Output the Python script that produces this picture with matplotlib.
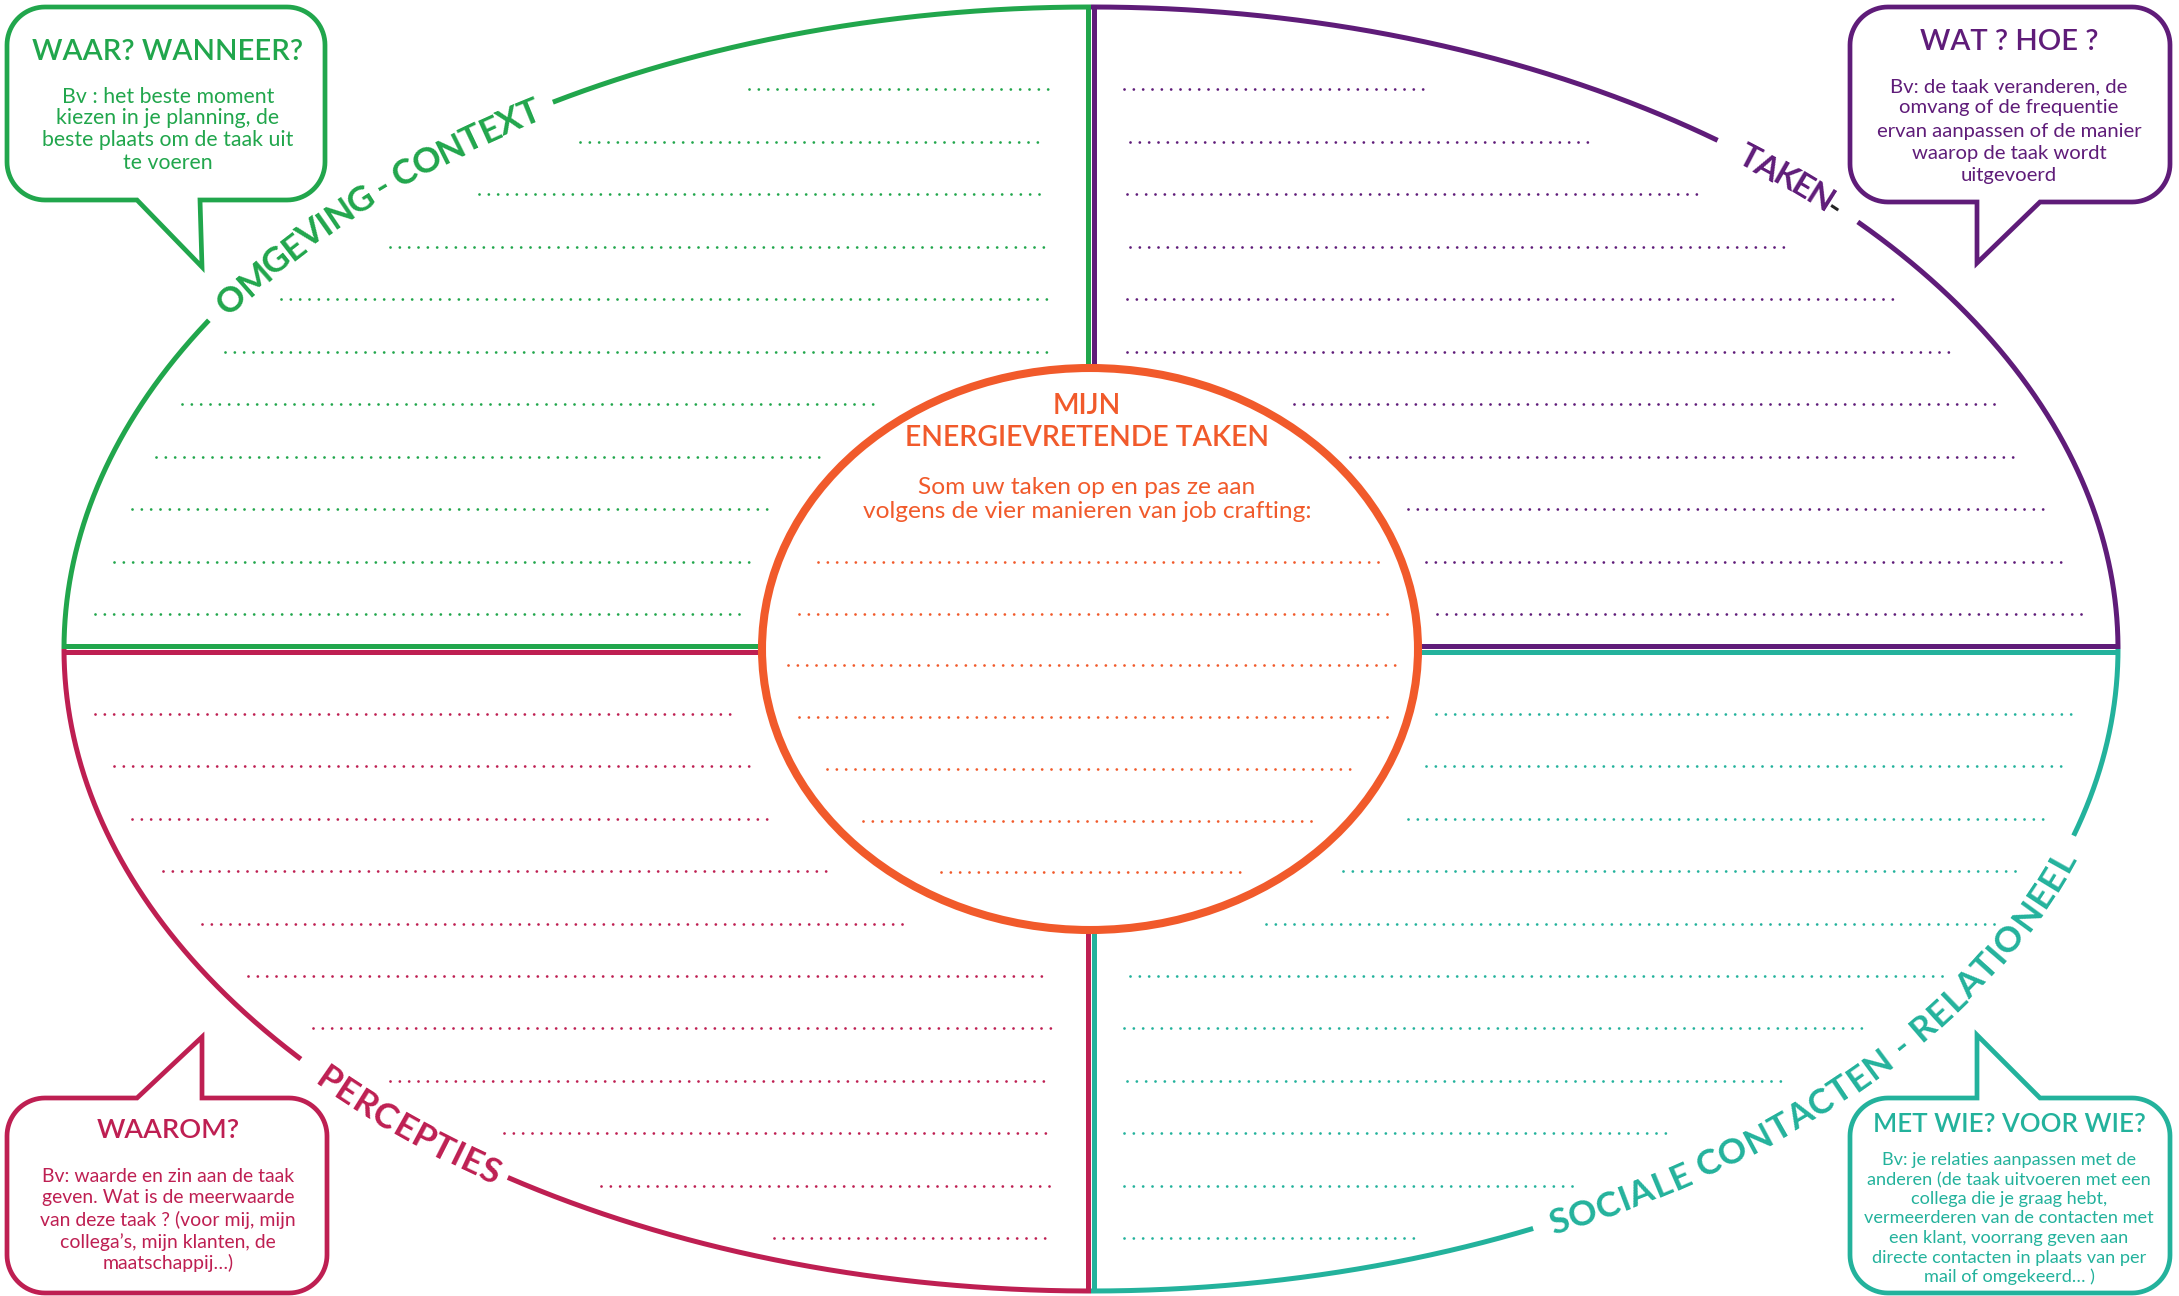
import numpy as np
import matplotlib
matplotlib.use("Agg")
import matplotlib.pyplot as plt
from matplotlib.font_manager import FontProperties
from matplotlib.patches import Ellipse, Polygon

W, H = 2179, 1296
FAMILY = ["Lato", "DejaVu Sans"]
plt.rcParams["font.family"] = FAMILY

GREEN, PURPLE, CRIMSON, TEAL, ORANGE = "#21A64C", "#5F1C79", "#BE1F52", "#23B29C", "#F15A2B"
DARK = "#222222"

# ---------------- content ----------------
quadrant_labels = ["OMGEVING - CONTEXT", "TAKEN-", "PERCEPTIES", "SOCIALE CONTACTEN - RELATIONEEL"]
bubble_titles = ["WAAR? WANNEER?", "WAT ? HOE ?", "WAAROM?", "MET WIE? VOOR WIE?"]
bubble_green = ["Bv : het beste moment", "kiezen in je planning, de",
                "beste plaats om de taak uit", "te voeren"]
bubble_purple = ["Bv: de taak veranderen, de", "omvang of de frequentie",
                 "ervan aanpassen of de manier", "waarop de taak wordt", "uitgevoerd"]
bubble_crimson = ["Bv: waarde en zin aan de taak", "geven. Wat is de meerwaarde",
                  "van deze taak ? (voor mij, mijn", "collega’s, mijn klanten, de",
                  "maatschappij…)"]
bubble_teal = ["Bv: je relaties aanpassen met de", "anderen (de taak uitvoeren met een",
               "collega die je graag hebt,", "vermeerderen van de contacten met",
               "een klant, voorrang geven aan", "directe contacten in plaats van per",
               "mail of omgekeerd… )"]
center_title = ["MIJN", "ENERGIEVRETENDE TAKEN"]
center_body = ["Som uw taken op en pas ze aan", "volgens de vier manieren van job crafting:"]

# ---------------- layout ----------------
CX, CY, A, B = 1091, 649, 1027, 642          # outer ellipse
OCX, OCY, OA, OB = 1090, 649, 328, 281       # centre ellipse

top_rows_y = [89 + 52.5 * i for i in range(11)]
bot_rows_y = [714 + 52.4 * i for i in range(11)]
mid_rows_y = [562 + 51.7 * i for i in range(7)]
green_rows = [(749, 1051), (580, 1046), (479, 1046), (390, 1046), (281, 1051), (225, 1051),
              (182, 874), (156, 824), (132, 767), (114, 751), (95, 739)]
purple_rows = [(1124, 1429), (1130, 1596), (1127, 1698), (1130, 1788), (1127, 1897), (1127, 1951),
               (1294, 1995), (1350, 2020), (1408, 2045), (1426, 2064), (1437, 2083)]
crimson_rows = [(95, 738), (114, 749), (132, 767), (163, 831), (202, 907), (248, 1044),
                (313, 1051), (390, 1046), (504, 1046), (601, 1051), (774, 1051)]
teal_rows = [(1436, 2080), (1426, 2064), (1408, 2045), (1343, 2020), (1266, 1995), (1130, 1951),
             (1124, 1862), (1127, 1784), (1124, 1667), (1124, 1572), (1124, 1419)]
orange_rows = [(818, 1380), (799, 1389), (788, 1400), (799, 1389), (827, 1355), (863, 1314),
               (941, 1244)]

fig = plt.figure(figsize=(W / 100, H / 100), dpi=100)
ax = fig.add_axes([0, 0, 1, 1])
ax.set_xlim(0, W)
ax.set_ylim(H, 0)
ax.axis("off")
renderer = fig.canvas.get_renderer()


def fprop(size, weight):
    return FontProperties(family=FAMILY, size=size, weight=weight)


def text_wh(s, size, weight):
    w, h, d = renderer.get_text_width_height_descent(s, fprop(size, weight), ismath=False)
    return w, h


def fit_size(s, target, weight):
    w, _ = text_wh(s, 20, weight)
    return 20 * target / w


def ell(t0, t1, n=500):
    t = np.radians(np.linspace(t0, t1, n))
    return CX + A * np.cos(t), CY - B * np.sin(t)


LW = 3.6
# outer arcs
for color, spans in [(GREEN, [(180, 149.2), (121.6, 90)]),
                     (PURPLE, [(90, 52.4), (41.7, 0)]),
                     (CRIMSON, [(180, 219.7), (235.4, 270)]),
                     (TEAL, [(270, 295.5), (343.1, 360)])]:
    for t0, t1 in spans:
        x, y = ell(t0, t1)
        ax.plot(x, y, color=color, lw=LW, solid_capstyle="butt", zorder=2)

# dividers
ax.plot([1088, 1088], [7, 369], color=GREEN, lw=LW, solid_capstyle="butt", zorder=2)
ax.plot([1094, 1094], [7, 369], color=PURPLE, lw=LW, solid_capstyle="butt", zorder=2)
ax.plot([1088, 1088], [930, 1291], color=CRIMSON, lw=LW, solid_capstyle="butt", zorder=2)
ax.plot([1094, 1094], [930, 1291], color=TEAL, lw=LW, solid_capstyle="butt", zorder=2)
ax.plot([64, 762], [646, 646], color=GREEN, lw=LW, solid_capstyle="butt", zorder=2)
ax.plot([64, 762], [652, 652], color=CRIMSON, lw=LW, solid_capstyle="butt", zorder=2)
ax.plot([1419, 2118], [646, 646], color=PURPLE, lw=LW, solid_capstyle="butt", zorder=2)
ax.plot([1419, 2118], [652, 652], color=TEAL, lw=LW, solid_capstyle="butt", zorder=2)

# centre ellipse
ax.add_patch(Ellipse((OCX, OCY), 2 * OA, 2 * OB, fc="white", ec=ORANGE, lw=5.8, zorder=3))

# dotted writing lines
DOT = dict(lw=2.0, linestyle=(0, (0.01, 3.35)), dash_capstyle="round", zorder=4)
for color, ys, rows in [(GREEN, top_rows_y, green_rows), (PURPLE, top_rows_y, purple_rows),
                        (CRIMSON, bot_rows_y, crimson_rows), (TEAL, bot_rows_y, teal_rows),
                        (ORANGE, mid_rows_y, orange_rows)]:
    for y, (x0, x1) in zip(ys, rows):
        ax.plot([x0, x1], [y, y], color=color, **DOT)


# curved labels
def curved_label(text, t_first, t_last, color, size, weight="bold", dark=()):
    widths = []
    sw = text_wh("H H", size, weight)[0] - 2 * text_wh("H", size, weight)[0]
    for c in text:
        widths.append(sw if c == " " else text_wh(c, size, weight)[0])
    widths = np.array(widths)
    cap = text_wh("H", size, weight)[1]
    ts = np.radians(np.linspace(t_first, t_last, 3000))
    xs, ys = CX + A * np.cos(ts), CY - B * np.sin(ts)
    s = np.concatenate([[0], np.cumsum(np.hypot(np.diff(xs), np.diff(ys)))])
    n = len(text)
    base = np.concatenate([[0], np.cumsum(widths[:-1])]) + widths / 2 - widths[0] / 2
    tr = (s[-1] - base[-1]) / (n - 1)
    pos = base + np.arange(n) * tr
    sign = np.sign(t_last - t_first)
    for i, c in enumerate(text):
        if c == " ":
            continue
        t = np.interp(pos[i], s, ts)
        x, y = CX + A * np.cos(t), CY - B * np.sin(t)
        dx, dy = -A * np.sin(t) * sign, B * np.cos(t) * sign
        ang = np.degrees(np.arctan2(dy, dx))
        r = np.radians(ang)
        bx, by = x + np.sin(r) * cap / 2, y + np.cos(r) * cap / 2
        ax.text(bx, by, c, rotation=ang, rotation_mode="anchor", ha="center", va="baseline",
                fontsize=size, fontweight=weight, color=DARK if i in dark else color, zorder=5)


curved_label(quadrant_labels[0], 146.9, 123.2, GREEN, 25.5)
curved_label(quadrant_labels[1], 50.1, 43.6, PURPLE, 24, dark=(5,))
curved_label(quadrant_labels[2], -137.9, -125.8, CRIMSON, 25.5)
curved_label(quadrant_labels[3], -62.9, -19.2, TEAL, 25.5)


# speech bubbles
def bubble(x0, y0, x1, y1, r, tail, side, color):
    def arc(cx, cy, a0, a1):
        a = np.radians(np.linspace(a0, a1, 20))
        return list(zip(cx + r * np.cos(a), cy + r * np.sin(a)))
    pts = []
    if side == "top":
        pts += [(x0 + r, y0)] + tail + [(x1 - r, y0)]
    else:
        pts += [(x0 + r, y0), (x1 - r, y0)]
    pts += arc(x1 - r, y0 + r, -90, 0)
    pts += arc(x1 - r, y1 - r, 0, 90)
    if side == "bottom":
        pts += tail
    pts += arc(x0 + r, y1 - r, 90, 180)
    pts += arc(x0 + r, y0 + r, 180, 270)
    ax.add_patch(Polygon(pts, closed=True, fc="white", ec=color, lw=3.4,
                         joinstyle="miter", zorder=6))


bubble(7, 7, 325, 200, 38, [(200, 200), (202, 267), (137, 200)], "bottom", GREEN)
bubble(1850, 7, 2170, 202, 38, [(2040, 202), (1977, 263), (1977, 202)], "bottom", PURPLE)
bubble(7, 1098, 327, 1293, 38, [(137, 1098), (202, 1037), (202, 1098)], "top", CRIMSON)
bubble(1850, 1098, 2170, 1293, 38, [(1977, 1098), (1977, 1035), (2040, 1098)], "top", TEAL)


def block(x, title, title_y, title_ref, title_w, lines, ys, ref, ref_w, color,
          tweight="semibold", bweight="normal"):
    ts = fit_size(title_ref, title_w, tweight)
    bs = fit_size(ref, ref_w, bweight)
    for tl, ty in zip(title, title_y):
        ax.text(x, ty, tl, ha="center", va="center", fontsize=ts, fontweight=tweight,
                color=color, zorder=7)
    for ln, y in zip(lines, ys):
        ax.text(x, y, ln, ha="center", va="center", fontsize=bs, fontweight=bweight,
                color=color, zorder=7)


block(168, [bubble_titles[0]], [52], bubble_titles[0], 270, bubble_green,
      [97, 118, 140, 163], bubble_green[2], 251, GREEN)
block(2009, [bubble_titles[1]], [42], bubble_titles[1], 178, bubble_purple,
      [87, 108, 131, 153, 175], bubble_purple[2], 265, PURPLE)
block(168, [bubble_titles[2]], [1130], bubble_titles[2], 143, bubble_crimson,
      [1177, 1198, 1220, 1242, 1263], bubble_crimson[2], 255, CRIMSON)
block(2009, [bubble_titles[3]], [1125], bubble_titles[3], 272, bubble_teal,
      [1160, 1180, 1199, 1218, 1238, 1258, 1277], bubble_teal[1], 285, TEAL)
block(1087, center_title, [406, 438], center_title[1], 364, center_body,
      [487, 512], center_body[1], 449, ORANGE)

fig.savefig("out.png", dpi=100)
